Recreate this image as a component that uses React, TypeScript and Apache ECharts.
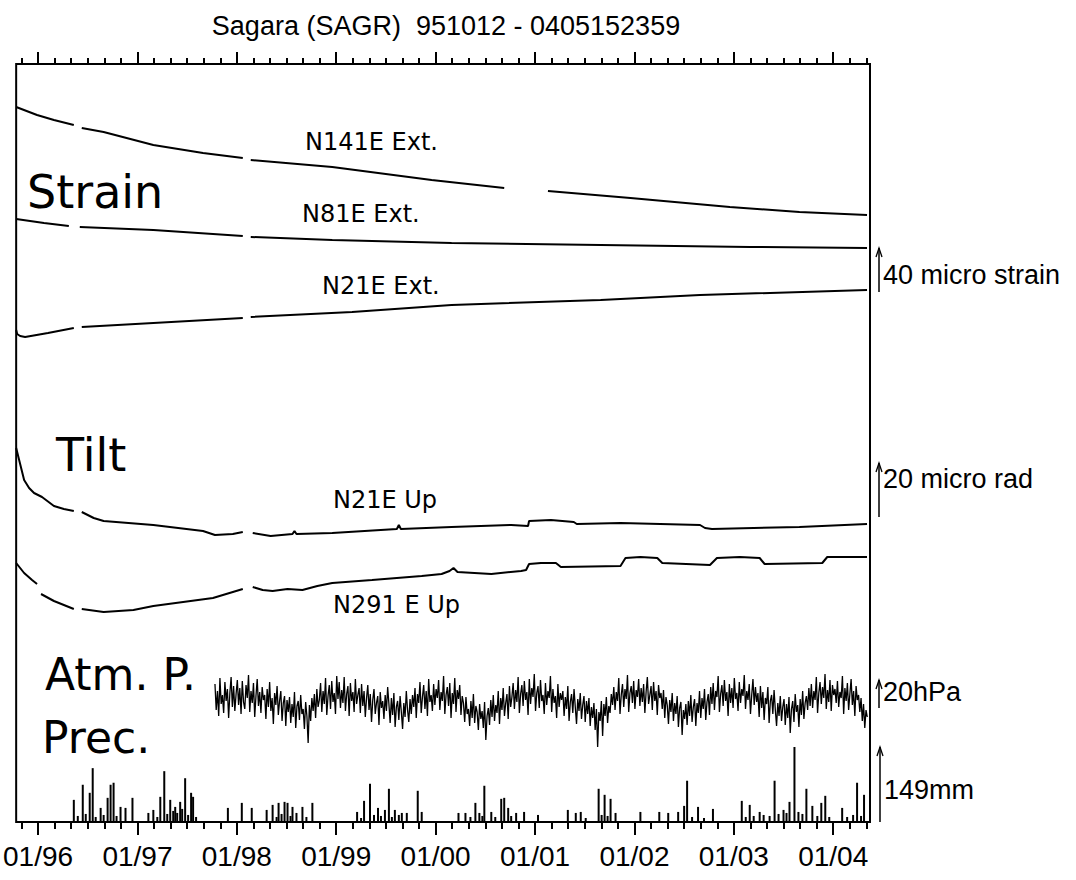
import { useEffect, useRef } from 'react';
import * as echarts from 'echarts';

const TITLE = 'Sagara (SAGR)  951012 - 0405152359';
const X_MIN = 1995.78;
const X_MAX = 2004.37;
const YEAR_TICKS = [1996, 1997, 1998, 1999, 2000, 2001, 2002, 2003, 2004];
const YEAR_LABELS = ['01/96', '01/97', '01/98', '01/99', '01/00', '01/01', '01/02', '01/03', '01/04'];
const MINOR_MONTHS = [3, 5, 7, 9, 11];

// trace values in plot units (0 = bottom of frame, 758 = top); x in decimal years; null = data gap
const N141E_EXT = [
  [1995.78, 715], [1995.99, 707], [1996.16, 702], [1996.36, 697], [1996.40, null], [1996.44, 694],
  [1996.66, 690], [1997.16, 677], [1997.66, 669], [1998.06, 664], [1998.10, null], [1998.14, 662],
  [1998.96, 655], [1999.96, 642], [2000.69, 634], [2000.90, null], [2001.13, 631], [2001.96, 624],
  [2002.96, 615], [2003.66, 610], [2004.34, 607],
];
const N81E_EXT = [
  [1995.78, 603], [1996.06, 599], [1996.31, 596], [1996.36, null], [1996.42, 595], [1997.16, 592],
  [1998.06, 586], [1998.10, null], [1998.14, 585], [1998.96, 582], [2000.16, 579], [2001.66, 577],
  [2003.16, 575], [2004.34, 574],
];
const N21E_EXT = [
  [1995.78, 492], [1995.79, 488], [1995.82, 486], [1995.87, 485], [1996.10, 489], [1996.36, 494],
  [1996.40, null], [1996.44, 495], [1997.16, 499], [1998.06, 504], [1998.10, null], [1998.14, 505],
  [1999.16, 510], [2000.16, 517], [2001.66, 522], [2002.66, 527], [2004.34, 532],
];
const N21E_UP = [
  [1995.78, 374], [1995.81, 362], [1995.86, 342], [1995.91, 334], [1995.96, 329], [1996.04, 325],
  [1996.08, 322], [1996.16, 316], [1996.26, 313], [1996.36, 311], [1996.40, null], [1996.44, 310],
  [1996.56, 304], [1996.66, 301], [1997.16, 297], [1997.66, 291], [1997.78, 287], [1997.96, 288],
  [1998.06, 290], [1998.10, null], [1998.16, 289], [1998.34, 286], [1998.56, 288], [1998.58, 291],
  [1998.60, 288], [1998.96, 289], [1999.61, 293], [1999.63, 297], [1999.65, 293], [2000.16, 295],
  [2000.76, 297], [2000.93, 296], [2000.94, 301], [2001.16, 302], [2001.39, 300], [2001.42, 298],
  [2001.86, 299], [2002.66, 297], [2002.71, 294], [2002.78, 293], [2003.66, 295], [2004.34, 298],
];
const N291E_UP = [
  [1995.78, 259], [1995.86, 249], [1995.94, 242], [1995.99, 238], [1996.01, null], [1996.03, 228],
  [1996.16, 221], [1996.36, 213], [1996.40, null], [1996.44, 213], [1996.66, 210], [1996.96, 212],
  [1997.16, 216], [1997.76, 224], [1997.96, 230], [1998.06, 233], [1998.10, null], [1998.16, 235],
  [1998.26, 232], [1998.36, 231], [1998.51, 233], [1998.66, 232], [1998.81, 236], [1998.96, 239],
  [1999.36, 242], [1999.86, 246], [2000.06, 248], [2000.14, 251], [2000.18, 254], [2000.22, 250],
  [2000.56, 248], [2000.86, 251], [2000.91, 252], [2000.94, 258], [2001.06, 259], [2001.21, 259],
  [2001.26, 255], [2001.86, 256], [2001.91, 264], [2002.06, 265], [2002.23, 264], [2002.28, 259],
  [2002.76, 257], [2002.83, 264], [2003.06, 265], [2003.26, 264], [2003.31, 258], [2003.89, 259],
  [2003.94, 265], [2004.34, 265],
];

// atmospheric pressure (plot units), sampled from 1997.78 every 0.0125 yr (rows of 0.25 yr)
const ATM_P_START = 1997.78;
const ATM_P_STEP = 0.0125;
const ATM_P = [
  138, 112, 131, 106, 144, 118, 127, 109, 140, 121, 133, 104, 129, 145, 115, 136, 111, 128, 142, 117,
  134, 108, 141, 120, 113, 137, 124, 147, 110, 131, 119, 139, 105, 126, 143, 116, 130, 109, 135, 122,
  127, 103, 133, 115, 140, 111, 124, 98, 129, 117, 136, 107, 121, 131, 101, 119, 126, 96, 122, 110,
  125, 99, 118, 105, 130, 94, 116, 121, 102, 127, 108, 113, 93, 120, 106, 79, 117, 101, 124, 111,
  128, 104, 133, 115, 122, 139, 110, 131, 118, 144, 107, 126, 137, 113, 141, 120, 129, 108, 146, 123,
  140, 114, 132, 119, 145, 111, 128, 136, 106, 139, 121, 130, 110, 143, 118, 127, 134, 109, 138, 116,
  131, 105, 124, 137, 112, 128, 100, 122, 133, 108, 119, 126, 97, 130, 114, 121, 103, 127, 111, 135,
  118, 99, 124, 107, 129, 95, 115, 121, 102, 126, 110, 93, 119, 105, 131, 112, 100, 123, 108, 127,
  115, 134, 104, 128, 119, 140, 109, 125, 137, 113, 131, 106, 143, 120, 127, 111, 138, 117, 133, 124,
  142, 112, 130, 121, 146, 108, 127, 135, 116, 139, 104, 129, 118, 144, 110, 132, 123, 137, 107, 126,
  119, 100, 125, 108, 113, 96, 121, 104, 128, 99, 116, 110, 92, 118, 103, 111, 94, 120, 82, 106,
  114, 97, 122, 105, 127, 101, 117, 109, 131, 98, 124, 112, 134, 106, 119, 128, 103, 136, 115, 125,
  139, 113, 132, 120, 145, 109, 128, 137, 116, 141, 122, 130, 107, 143, 118, 134, 125, 148, 111, 129,
  136, 114, 142, 121, 127, 108, 139, 117, 131, 124, 146, 110, 133, 119, 126, 104, 138, 115, 129, 122,
  131, 106, 125, 113, 136, 101, 120, 128, 109, 133, 115, 98, 123, 111, 129, 103, 117, 126, 100, 121,
  108, 124, 96, 115, 104, 119, 92, 113, 75, 110, 101, 121, 86, 118, 106, 125, 99, 116, 109, 128,
  117, 135, 112, 130, 121, 144, 108, 127, 138, 115, 133, 123, 147, 110, 129, 136, 119, 141, 113, 132,
  125, 143, 116, 134, 120, 138, 109, 130, 145, 118, 127, 136, 112, 140, 121, 131, 107, 137, 124, 129,
  113, 132, 104, 125, 117, 98, 122, 110, 129, 101, 119, 108, 126, 95, 114, 120, 87, 112, 103, 118,
  97, 121, 106, 127, 100, 115, 123, 96, 119, 109, 131, 104, 124, 113, 133, 102, 120, 128, 107, 135,
  118, 139, 112, 131, 125, 146, 110, 128, 137, 116, 142, 121, 130, 106, 138, 119, 134, 114, 144, 123,
  129, 111, 140, 119, 133, 126, 147, 113, 131, 122, 138, 108, 127, 143, 117, 135, 120, 129, 105, 136,
  114, 130, 102, 124, 118, 135, 99, 121, 127, 108, 132, 112, 96, 119, 106, 126, 101, 115, 123, 97,
  118, 104, 125, 89, 113, 121, 100, 128, 110, 117, 95, 123, 107, 131, 103, 119, 126, 112, 134, 116,
  138, 114, 131, 122, 145, 109, 129, 140, 118, 135, 124, 148, 113, 132, 120, 142, 111, 137, 127, 133,
  119, 141, 115, 130, 124, 146, 108, 134, 121, 139, 112, 128, 143, 117, 131, 106, 136, 122, 127, 110,
  124, 101, 118, 94, 112, 105,
];

// precipitation [decimal year, mm]
const PREC_MM = [
  [1996.36, 44], [1996.40, 12], [1996.45, 74], [1996.48, 16], [1996.52, 58], [1996.55, 107],
  [1996.58, 10], [1996.63, 28], [1996.66, 14], [1996.70, 48], [1996.73, 74], [1996.76, 78],
  [1996.79, 12], [1996.83, 30], [1996.88, 28], [1996.95, 48], [1997.11, 18], [1997.16, 24],
  [1997.20, 10], [1997.23, 50], [1997.27, 101], [1997.30, 16], [1997.33, 44], [1997.36, 22],
  [1997.38, 30], [1997.40, 18], [1997.43, 40], [1997.45, 26], [1997.48, 87], [1997.51, 14],
  [1997.54, 58], [1997.56, 50], [1997.59, 10], [1997.91, 28], [1998.05, 38], [1998.15, 28],
  [1998.30, 24], [1998.36, 34], [1998.40, 10], [1998.42, 38], [1998.45, 16], [1998.48, 40],
  [1998.51, 38], [1998.54, 12], [1998.56, 30], [1998.60, 18], [1998.66, 30], [1998.70, 10],
  [1998.76, 38], [1999.21, 20], [1999.25, 8], [1999.28, 42], [1999.34, 76], [1999.38, 14],
  [1999.42, 28], [1999.45, 12], [1999.49, 24], [1999.53, 66], [1999.56, 10], [1999.59, 24],
  [1999.63, 14], [1999.66, 18], [1999.71, 18], [1999.82, 62], [1999.86, 20], [2000.23, 18],
  [2000.30, 18], [2000.35, 10], [2000.40, 38], [2000.44, 18], [2000.47, 12], [2000.49, 72],
  [2000.56, 20], [2000.60, 10], [2000.66, 46], [2000.69, 48], [2000.73, 28], [2000.76, 12],
  [2000.81, 18], [2000.89, 20], [2001.03, 14], [2001.33, 24], [2001.41, 18], [2001.46, 20],
  [2001.51, 8], [2001.64, 66], [2001.67, 14], [2001.70, 54], [2001.73, 12], [2001.76, 46],
  [2001.81, 18], [2002.06, 20], [2002.25, 20], [2002.34, 18], [2002.44, 20], [2002.50, 32],
  [2002.53, 82], [2002.58, 10], [2002.64, 30], [2002.70, 8], [2002.79, 26], [2003.08, 42],
  [2003.12, 10], [2003.16, 34], [2003.20, 12], [2003.26, 20], [2003.30, 14], [2003.36, 12],
  [2003.41, 82], [2003.45, 16], [2003.50, 24], [2003.53, 18], [2003.56, 40], [2003.61, 149],
  [2003.65, 20], [2003.69, 16], [2003.73, 66], [2003.79, 32], [2003.84, 12], [2003.88, 38],
  [2003.92, 52], [2003.96, 10], [2004.09, 28], [2004.14, 10], [2004.20, 14], [2004.24, 78],
  [2004.28, 12], [2004.31, 54],
];
const PREC_AXIS_MAX = 1506;

const TRACE_LABELS = [
  { text: 'N141E Ext.', x: 305, y: 142 },
  { text: 'N81E Ext.', x: 302, y: 214 },
  { text: 'N21E Ext.', x: 322, y: 286 },
  { text: 'N21E Up', x: 333, y: 500 },
  { text: 'N291 E Up', x: 333, y: 605 },
];
const GROUP_LABELS = [
  { text: 'Strain', x: 27, y: 192, size: 46 },
  { text: 'Tilt', x: 56, y: 455, size: 46 },
  { text: 'Atm. P.', x: 45, y: 674, size: 44 },
  { text: 'Prec.', x: 42, y: 737, size: 44 },
];
const SCALE_BARS = [
  { text: '40 micro strain', x: 879, y1: 292, y2: 248, ty: 275 },
  { text: '20 micro rad', x: 879, y1: 517, y2: 463, ty: 479 },
  { text: '20hPa', x: 879, y1: 708, y2: 680, ty: 692 },
  { text: '149mm', x: 880, y1: 822, y2: 747, ty: 790 },
];

function minorTicks() {
  const out: number[] = [];
  for (let y = 1995; y <= 2004; y++) {
    for (const m of MINOR_MONTHS) {
      const v = y + (m - 1) / 12;
      if (v > X_MIN && v < X_MAX) out.push(v);
    }
  }
  return out;
}

export default function App() {
  const ref = useRef<HTMLDivElement>(null);
  useEffect(() => {
    if (!ref.current) return;
    const chart = echarts.init(ref.current, undefined, { renderer: 'svg' });
    const minors = minorTicks();
    const baseX = (position: string, ticks: number[], len: number, labels: boolean) => ({
      type: 'value',
      gridIndex: 0,
      position,
      min: X_MIN,
      max: X_MAX,
      axisLine: { show: false },
      splitLine: { show: false },
      axisTick: { show: true, customValues: ticks, length: len, inside: false, lineStyle: { color: '#000', width: 2 } },
      axisLabel: labels
        ? {
            show: true,
            customValues: YEAR_TICKS,
            margin: 20,
            color: '#000',
            fontSize: 28,
            fontFamily: '"Liberation Sans", Arial, sans-serif',
            formatter: (v: number) => YEAR_LABELS[YEAR_TICKS.indexOf(Math.round(v))] ?? '',
          }
        : { show: false },
    });
    const lineSeries = (name: string, data: any[], width = 2) => ({
      name,
      type: 'line',
      xAxisIndex: 0,
      yAxisIndex: 0,
      data,
      showSymbol: false,
      symbol: 'none',
      connectNulls: false,
      lineStyle: { color: '#000', width },
      silent: true,
    });
    const graphics: any[] = [];
    TRACE_LABELS.forEach((l) =>
      graphics.push({
        type: 'text', x: l.x, y: l.y,
        style: { text: l.text, fontSize: 24, fontFamily: '"DejaVu Sans", sans-serif', fill: '#000', textAlign: 'left', textVerticalAlign: 'middle', verticalAlign: 'middle' },
      })
    );
    GROUP_LABELS.forEach((l) =>
      graphics.push({
        type: 'text', x: l.x, y: l.y,
        style: { text: l.text, fontSize: l.size, fontFamily: '"DejaVu Sans", sans-serif', fill: '#000', textAlign: 'left', textVerticalAlign: 'middle', verticalAlign: 'middle' },
      })
    );
    SCALE_BARS.forEach((s) => {
      graphics.push({ type: 'line', shape: { x1: s.x, y1: s.y1, x2: s.x, y2: s.y2 }, style: { stroke: '#000', lineWidth: 1.5 } });
      graphics.push({ type: 'polyline', shape: { points: [[s.x - 3, s.y2 + 9], [s.x, s.y2], [s.x + 3, s.y2 + 9]] }, style: { stroke: '#000', lineWidth: 1.3, fill: 'none' } });
      graphics.push({
        type: 'text', x: s.x + 4, y: s.ty,
        style: { text: s.text, fontSize: 27, fontFamily: '"Liberation Sans", Arial, sans-serif', fill: '#000', textAlign: 'left', textVerticalAlign: 'middle', verticalAlign: 'middle' },
      });
    });
    graphics.push({
      type: 'text', x: 446, y: 26,
      style: { text: TITLE, fontSize: 27, fontFamily: '"Liberation Sans", Arial, sans-serif', fill: '#000', textAlign: 'center', textVerticalAlign: 'middle', verticalAlign: 'middle' },
    });

    chart.setOption({
      animation: false,
      backgroundColor: '#fff',
      grid: { left: 12, top: 64, width: 858, height: 758, show: true, borderColor: '#000', borderWidth: 2, backgroundColor: 'transparent', containLabel: false },
      xAxis: [
        baseX('bottom', YEAR_TICKS, 13, true),
        baseX('bottom', minors, 7, false),
        baseX('top', YEAR_TICKS, 12, false),
        baseX('top', minors, 6, false),
      ],
      yAxis: [
        { type: 'value', min: 0, max: 758, show: false },
        { type: 'value', min: 0, max: PREC_AXIS_MAX, show: false },
      ],
      series: [
        lineSeries('N141E Ext.', N141E_EXT),
        lineSeries('N81E Ext.', N81E_EXT),
        lineSeries('N21E Ext.', N21E_EXT),
        lineSeries('N21E Up', N21E_UP),
        lineSeries('N291 E Up', N291E_UP),
        lineSeries('Atm. P.', ATM_P.map((v, i) => [ATM_P_START + i * ATM_P_STEP, v]), 1.3),
        {
          name: 'Prec.',
          type: 'bar',
          xAxisIndex: 0,
          yAxisIndex: 1,
          data: PREC_MM,
          barWidth: 2,
          itemStyle: { color: '#000' },
          silent: true,
        },
      ],
      graphic: graphics,
    });
    return () => chart.dispose();
  }, []);
  return <div ref={ref} style={{ position: 'fixed', left: 0, top: 0, width: 1076, height: 880, background: '#fff' }} />;
}
